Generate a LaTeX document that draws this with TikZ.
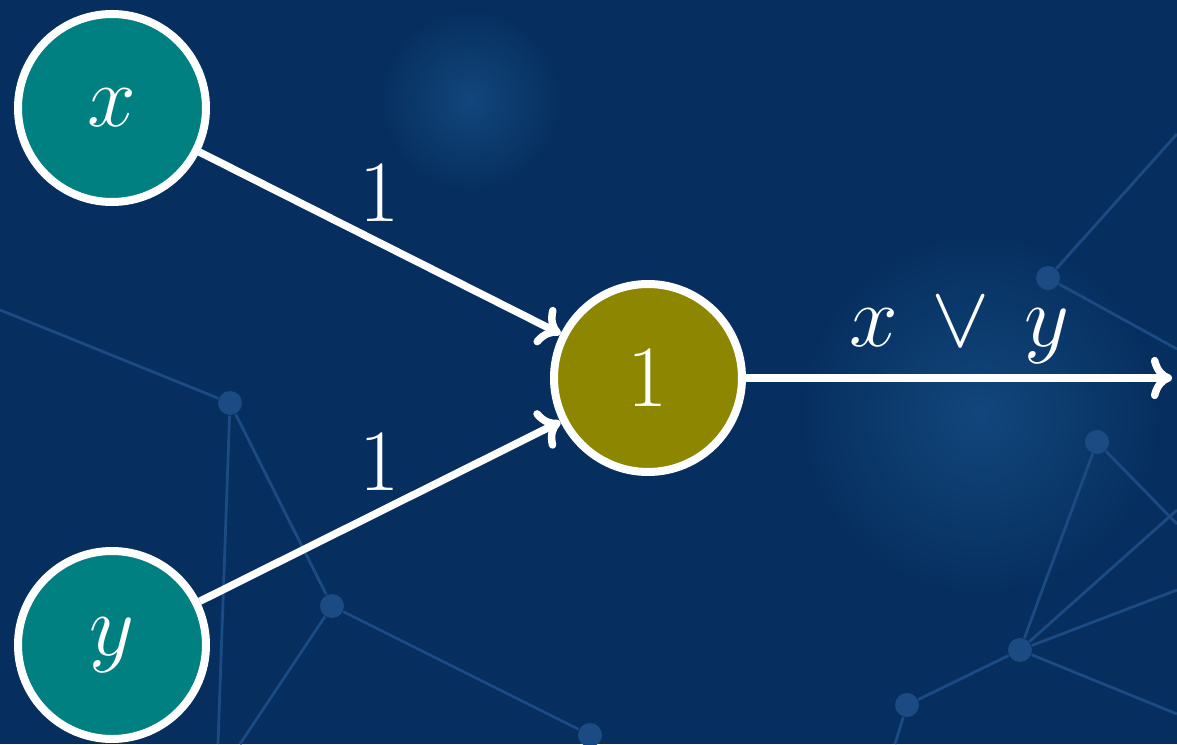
\documentclass[tikz,border=0pt]{standalone}
\usepackage{amsmath}
\usetikzlibrary{arrows.meta, positioning, calc}
\definecolor{slideblue}{RGB}{6,47,95}
\definecolor{netblue}{RGB}{28,74,130}
\definecolor{glowblue}{RGB}{18,70,124}
\tikzset{
    inp/.style={circle, draw=white, line width=0.08cm, fill=teal, text=white, minimum size=1.88cm, font=\fontsize{26}{30}\selectfont},
    neuron/.style={circle, draw=white, line width=0.08cm, fill=olive, text=white, minimum size=1.88cm, font=\fontsize{26}{30}\selectfont},
    arrow/.style={-{Computer Modern Rightarrow[length=6pt, width=12pt]}, line width=0.075cm, white},
    weight/.style={text=white, inner sep=2pt, font=\fontsize{26}{30}\selectfont},
    net/.style={netblue, line width=0.8pt},
    netdot/.style={circle, fill=netblue, inner sep=0pt, minimum size=0.24cm}
}
\begin{document}
\begin{tikzpicture}
        % background of the slide
        \fill [slideblue] (0,0) rectangle (11.77,7.44);
        \useasboundingbox (0,0) rectangle (11.77,7.44);
        \shade [inner color=glowblue, outer color=slideblue] (4.7,6.44) circle (0.9);
        \shade [inner color=glowblue, outer color=slideblue] (9.8,3.3) circle (1.8);
        \node [netdot] (n1) at (2.30,3.41) {};
        \node [netdot] (n2) at (3.32,1.38) {};
        \node [netdot] (n3) at (5.90,0.09) {};
        \node [netdot] (n4) at (10.48,4.66) {};
        \node [netdot] (n5) at (10.20,0.94) {};
        \node [netdot] (n6) at (9.07,0.39) {};
        \node [netdot] (n7) at (10.97,3.02) {};
        \draw [net] (0,4.34) -- (n1) -- (2.18,0);
        \draw [net] (n1) -- (n2) -- (2.40,0);
        \draw [net] (n2) -- (n3);
        \draw [net] (n4) -- (11.77,6.10);
        \draw [net] (n4) -- (11.77,3.95);
        \draw [net] (n7) -- (n5) -- (11.77,1.54);
        \draw [net] (n5) -- (11.77,2.34);
        \draw [net] (n5) -- (11.77,0.30);
        \draw [net] (n5) -- (n6) -- (8.95,0);
        \draw [net] (n7) -- (11.77,2.20);

        % the network
        \node [inp] (x) at (1.12,6.36) {$x$};
        \node [inp] (y) at (1.12,0.99) {$y$};
        \node [neuron] (sum) at (6.48,3.66) {$1$};
        \coordinate (out) at (11.72,3.66);
        \draw [arrow] (x) -- node[weight, above=3pt] {$1$} (sum);
        \draw [arrow] (y) -- node[weight, above=3pt] {$1$} (sum);
        \draw [arrow] (sum) -- node[weight, above=1pt] {$x \,\vee\, y$} (out);
    \end{tikzpicture}
\end{document}
